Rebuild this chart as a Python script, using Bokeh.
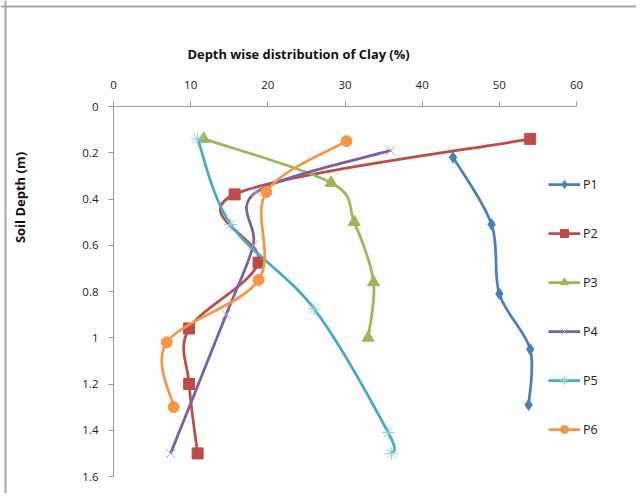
import numpy as np
from bokeh.plotting import figure
from bokeh.models import (ColumnDataSource, Range1d, FixedTicker, Legend, LegendItem, Label, Span)
from bokeh.embed import file_html
from bokeh.resources import INLINE

# ---- data (clay %, soil depth m) ----
series_names = ["P1", "P2", "P3", "P4", "P5", "P6"]
p1_clay = [44.0, 49.0, 50.0, 54.0, 53.8]
p1_depth = [0.22, 0.51, 0.81, 1.05, 1.29]
p2_clay = [54.0, 15.7, 18.8, 9.8, 9.8, 10.9]
p2_depth = [0.14, 0.38, 0.675, 0.96, 1.20, 1.50]
p3_clay = [11.7, 28.2, 31.2, 33.7, 33.0]
p3_depth = [0.14, 0.33, 0.50, 0.76, 1.00]
p4_clay = [35.9, 18.5, 18.1, 14.6, 7.4]
p4_depth = [0.19, 0.37, 0.60, 0.90, 1.50]
p5_clay = [10.9, 15.2, 26.0, 35.6, 36.0]
p5_depth = [0.14, 0.51, 0.875, 1.41, 1.50]
p6_clay = [30.2, 19.8, 18.8, 6.9, 7.8]
p6_depth = [0.15, 0.37, 0.75, 1.02, 1.30]

x_ticks = [0, 10, 20, 30, 40, 50, 60]
y_ticks = [0, 0.2, 0.4, 0.6, 0.8, 1.0, 1.2, 1.4, 1.6]
y_tick_labels = ["0", "0.2", "0.4", "0.6", "0.8", "1", "1.2", "1.4", "1.6"]

clays = [p1_clay, p2_clay, p3_clay, p4_clay, p5_clay, p6_clay]
depths = [p1_depth, p2_depth, p3_depth, p4_depth, p5_depth, p6_depth]

colors = ["#4A7EBB", "#BE4B48", "#98B954", "#7D60A0", "#46AAC5", "#F59646"]
marker_colors = ["#4A7EBB", "#BE4B48", "#98B954", "#B3A2C7", "#93CDDD", "#F59646"]
markers = ["diamond", "square", "triangle", "x", "asterisk", "circle"]
marker_sizes = [11, 11, 12, 13, 13, 11]

FONT = "Open Sans"

# ---- canvas geometry (pixels) ----
W, H = 636, 493
PX_X0, PX_X60 = 113, 576      # pixel of clay 0 and 60
PX_Y0, PX_Y16 = 106, 476      # pixel of depth 0 and 1.6
sx = (PX_X60 - PX_X0) / 60.0
sy = (PX_Y16 - PX_Y0) / 1.6


def dx(px):
    return (px - PX_X0) / sx


def dy(py):
    return (py - PX_Y0) / sy


p = figure(width=W, height=H, output_backend="svg", toolbar_location=None, title=None,
           x_range=Range1d(dx(0), dx(W)), y_range=Range1d(dy(H), dy(0)),
           x_axis_location="above",
           min_border=0, min_border_left=0, min_border_right=0,
           min_border_top=0, min_border_bottom=0)
p.outline_line_color = None
p.xgrid.visible = False
p.ygrid.visible = False
p.background_fill_color = "white"
p.border_fill_color = "white"

xa, ya = p.xaxis[0], p.yaxis[0]
xa.fixed_location = 0
ya.fixed_location = 0
xa.bounds = (x_ticks[0], x_ticks[-1])
ya.bounds = (y_ticks[0], y_ticks[-1])
for ax in (xa, ya):
    ax.axis_line_color = "#9A9A9A"
    ax.major_tick_line_color = "#9A9A9A"
    ax.minor_tick_line_color = None
    ax.major_tick_in = 0
    ax.major_tick_out = 5
    ax.major_label_text_font = FONT
    ax.major_label_text_font_size = "11.5px"
    ax.major_label_text_color = "#222222"

xa.ticker = FixedTicker(ticks=x_ticks)
xa.major_label_standoff = 13
ya.ticker = FixedTicker(ticks=y_ticks)
ya.major_label_overrides = {t: l for t, l in zip(y_ticks, y_tick_labels)}
ya.major_label_standoff = 10

# outer chart border (top and left, as in the reference)
p.add_layout(Span(location=dx(5), dimension="height", line_color="#A6A6A6", line_width=2))
p.add_layout(Span(location=dy(6), dimension="width", line_color="#A6A6A6", line_width=2))


def bezier_segments(xs, ys):
    P = np.column_stack([xs, ys]).astype(float)
    n = len(P)
    ext = np.vstack([P[0], P, P[-1]])
    out = {k: [] for k in ("x0", "y0", "x1", "y1", "cx0", "cy0", "cx1", "cy1")}
    for i in range(n - 1):
        pm, a, b, pp = ext[i], ext[i + 1], ext[i + 2], ext[i + 3]
        c0 = a + (b - pm) / 6.0
        c1 = b - (pp - a) / 6.0
        for k, v in zip(out, (a[0], a[1], b[0], b[1], c0[0], c0[1], c1[0], c1[1])):
            out[k].append(v)
    return out


items = []
for name, cx, dd, col, mcol, mk, ms in zip(series_names, clays, depths, colors,
                                           marker_colors, markers, marker_sizes):
    src = ColumnDataSource(bezier_segments(cx, dd))
    r_line = p.bezier(x0="x0", y0="y0", x1="x1", y1="y1", cx0="cx0", cy0="cy0",
                      cx1="cx1", cy1="cy1", source=src, line_color=col, line_width=2.75)
    if mk in ("x", "asterisk"):
        r_pt = p.scatter(cx, dd, marker=mk, size=ms, line_color=mcol, line_width=1)
    else:
        r_pt = p.scatter(cx, dd, marker=mk, size=ms, fill_color=col, line_color=col)
    items.append(LegendItem(label=name, renderers=[r_line, r_pt]))

legend = Legend(items=items, location=(548, 54), orientation="vertical",
                glyph_width=32, glyph_height=20, spacing=29, padding=0, margin=0,
                label_standoff=3, label_text_font=FONT, label_text_font_size="12.5px",
                label_text_color="#222222", border_line_color=None,
                background_fill_alpha=0)
p.add_layout(legend, "center")

p.add_layout(Label(x=dx(187), y=dy(53), text="Depth wise distribution of Clay (%)",
                   text_font=FONT, text_font_size="12.9px", text_font_style="bold",
                   text_baseline="middle", text_align="left", text_color="#111111"))
p.add_layout(Label(x=dx(19), y=dy(197), text="Soil Depth (m)", angle=np.pi / 2,
                   text_font=FONT, text_font_size="13px", text_font_style="bold",
                   text_baseline="middle", text_align="center", text_color="#111111"))

open("out.html", "w").write(file_html(p, INLINE))
